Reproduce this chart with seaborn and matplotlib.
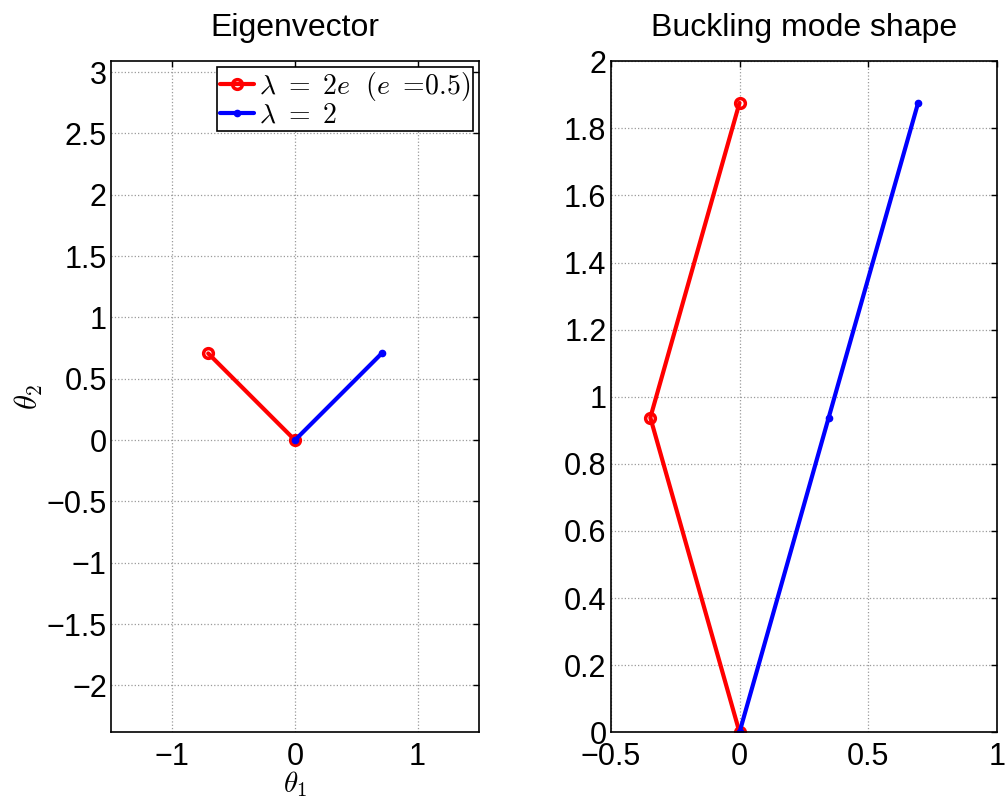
import numpy as np
import pandas as pd
import matplotlib
matplotlib.use("Agg")
import matplotlib.pyplot as plt
from matplotlib.ticker import FuncFormatter, MultipleLocator
import seaborn as sns

# Eigenvector components (theta_1, theta_2) drawn from the origin
eig_red_x = [-0.707, 0.0]
eig_red_y = [0.707, 0.0]
eig_blue_x = [0.0, 0.707]
eig_blue_y = [0.0, 0.707]

# Buckling mode shape of the two-bar column (joint coordinates)
mode_red_x = [0.0, -0.346, 0.0]
mode_red_y = [0.0, 0.938, 1.876]
mode_blue_x = [0.0, 0.346, 0.693]
mode_blue_y = [0.0, 0.938, 1.876]

label_red = r"$\lambda\ =\ 2e\ \ (e\ =\!0.5)$"
label_blue = r"$\lambda\ =\ 2$"

sns.set_style("white")
plt.rcParams["font.family"] = ["Liberation Sans", "DejaVu Sans"]
plt.rcParams["mathtext.fontset"] = "cm"
plt.rcParams["axes.unicode_minus"] = True
plt.rcParams["text.color"] = "black"
plt.rcParams["axes.labelcolor"] = "black"
plt.rcParams["axes.titlecolor"] = "black"


def fmt(v, pos):
    s = "%g" % round(v, 6)
    if s == "-0":
        s = "0"
    return s.replace("-", "\u2212")


fig = plt.figure(figsize=(10.06, 8.01), dpi=100)
ax1 = fig.add_axes([0.1103, 0.0858, 0.3658, 0.8377])
ax2 = fig.add_axes([0.6070, 0.0858, 0.3843, 0.8377])

red_style = dict(color="red", lw=3, marker="o", markersize=7, mfc="none",
                 mec="red", mew=2.5, sort=False, estimator=None)
blue_style = dict(color="blue", lw=3, marker="o", markersize=4.5, mfc="blue",
                  mec="blue", mew=1, sort=False, estimator=None)

sns.lineplot(x=eig_red_x, y=eig_red_y, ax=ax1, label=label_red, **red_style)
sns.lineplot(x=eig_blue_x, y=eig_blue_y, ax=ax1, label=label_blue, **blue_style)

sns.lineplot(x=mode_red_x, y=mode_red_y, ax=ax2, **red_style)
sns.lineplot(x=mode_blue_x, y=mode_blue_y, ax=ax2, **blue_style)

# equal scaling on the eigenvector panel, centred on the data
yc = 0.3536
half = 0.5 * 3.0 * (0.8377 * 801) / (0.3658 * 1006)
ax1.set_xlim(-1.5, 1.5)
ax1.set_ylim(yc - half, yc + half)
ax1.xaxis.set_major_locator(MultipleLocator(1))
ax1.yaxis.set_major_locator(MultipleLocator(0.5))

ax2.set_xlim(-0.5, 1.0)
ax2.set_ylim(0, 2)
ax2.xaxis.set_major_locator(MultipleLocator(0.5))
ax2.yaxis.set_major_locator(MultipleLocator(0.2))

for ax in (ax1, ax2):
    ax.xaxis.set_major_formatter(FuncFormatter(fmt))
    ax.yaxis.set_major_formatter(FuncFormatter(fmt))
    ax.grid(True, linestyle=":", color="#9a9a9a", lw=0.9)
    ax.set_axisbelow(True)
    for sp in ax.spines.values():
        sp.set_visible(True)
        sp.set_color("black")
        sp.set_linewidth(1.2)
    ax.tick_params(direction="in", length=4, width=1.0, top=True, right=True,
                   labelsize=22, colors="black")
    ax.tick_params(axis="x", pad=7)
    ax.tick_params(axis="y", pad=3)

ax1.set_title("Eigenvector", fontsize=23, pad=18)
ax2.set_title("Buckling mode shape", fontsize=23, pad=18)
ax1.set_xlabel(r"$\theta_1$", fontsize=21, labelpad=-2)
ax1.set_ylabel(r"$\theta_2$", fontsize=22, labelpad=1)
ax2.set_xlabel("")
ax2.set_ylabel("")

leg = ax1.legend(loc="upper right", fontsize=20, frameon=True, fancybox=False,
                 framealpha=1, edgecolor="black", borderaxespad=0.2,
                 handlelength=1.2, handletextpad=0.2, borderpad=0.1,
                 labelspacing=0.0)
leg.get_frame().set_linewidth(1.2)

fig.savefig("out.png", dpi=100, facecolor="white")
